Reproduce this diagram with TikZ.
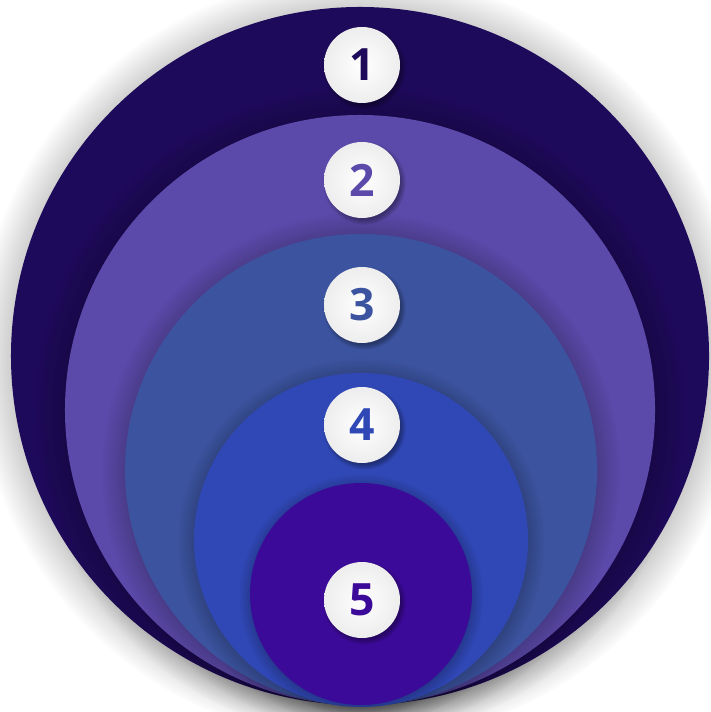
\documentclass[tikz,border=0pt]{standalone}
\usepackage{fontspec}
\setmainfont{Open Sans}
\usetikzlibrary{shadows,positioning}
\definecolor{ringone}{RGB}{30,10,90}
\definecolor{ringtwo}{RGB}{92,74,170}
\definecolor{ringthree}{RGB}{60,84,160}
\definecolor{ringfour}{RGB}{48,72,182}
\definecolor{ringfive}{RGB}{60,10,152}

\begin{document}
\begin{tikzpicture}[
    x=0.03cm, y=-0.03cm,
    ring/.style={circle, inner sep=0pt, draw=none,
                 circular drop shadow={shadow xshift=0cm, shadow yshift=-0.05cm, opacity=0.3, color=black}},
    badge/.style={circle, inner sep=0pt, minimum size=2.28cm, inner color=white, outer color=gray!14,
                  circular drop shadow={shadow xshift=0.06cm, shadow yshift=-0.08cm, opacity=0.35, color=black},
                  font=\fontsize{38}{38}\selectfont\bfseries}
]
\useasboundingbox (0,0) rectangle (710,712);

% Rings
\node[ring, fill=ringone, minimum size=20.94cm] (r1) at (360,356) {};
\node[ring, fill=ringtwo, minimum size=17.70cm] (r2) at (360,410) {};
\node[ring, fill=ringthree, minimum size=14.16cm] (r3) at (361,470) {};
\node[ring, fill=ringfour, minimum size=10.02cm] (r4) at (361,540) {};
\node[ring, fill=ringfive, minimum size=6.66cm] (r5) at (361,594) {};

% Numbers
\node[badge, text=ringone] (b1) at (362,65) {1};
\node[badge, text=ringtwo] (b2) at (362,180) {2};
\node[badge, text=ringthree] (b3) at (362,305) {3};
\node[badge, text=ringfour] (b4) at (362,425) {4};
\node[badge, text=ringfive] (b5) at (362,600) {5};

\end{tikzpicture}
\end{document}
